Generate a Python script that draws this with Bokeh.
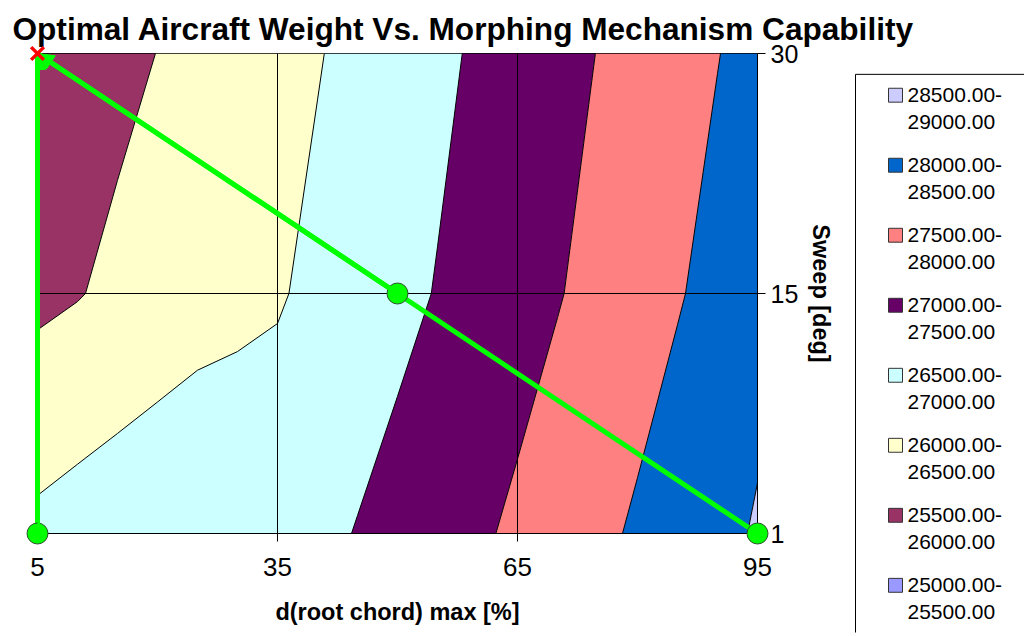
import numpy as np
from bokeh.plotting import figure
from bokeh.models import Range1d, FixedTicker, Arrow, NormalHead, ColumnDataSource
from bokeh.layouts import row
from bokeh.embed import file_html
from bokeh.resources import INLINE
from bokeh.core.properties import value

# ---------------- data ----------------
chord_max = [5, 10, 15, 20, 25, 30, 35, 40, 45, 50, 55, 60, 65, 70, 75, 80, 85, 90, 95]
sweep_rows = [1, 15, 30]
weight_sweep1 = [26615, 26713, 26786, 26797, 26798, 26782, 26780, 26881, 27021, 27160,
                 27295, 27432, 27580, 27740, 27900, 28060, 28220, 28380, 28540]
weight_sweep15 = [25890, 25975, 26100, 26255, 26360, 26410, 26460, 26600, 26740, 26880,
                  27022, 27172, 27322, 27473, 27636, 27802, 27967, 28132, 28350]
weight_sweep30 = [25653, 25770, 25888, 26006, 26123, 26241, 26359, 26476, 26617, 26763,
                  26909, 27056, 27207, 27357, 27508, 27668, 27828, 27988, 28148]
levels = [25000, 25500, 26000, 26500, 27000, 27500, 28000, 28500, 29000]
band_colors = ["#9999FF", "#993366", "#FFFFCC", "#CCFFFF", "#660066", "#FF8080", "#0066CC", "#CCCCFF"]
x_ticks = [5, 35, 65, 95]
sweep_ticks = [1, 15, 30]
path_vertical_x = [5, 5]
path_vertical_y = [1, 30]
path_diag_x = [95, 50, 5]
path_diag_y = [1, 15, 30]
point_x = [5, 50, 95]
point_y = [1, 15, 1]
optimum_x = [5]
optimum_y = [30]

FONT = "Liberation Sans"
row_pos = {s: i for i, s in enumerate(sweep_rows)}

def ypos(vals):
    return [row_pos[v] for v in vals]

# ---------------- main plot ----------------
p = figure(width=1024, height=632, output_backend="svg", toolbar_location=None,
           x_range=Range1d(5, 95), y_range=Range1d(0, 2), y_axis_location="right",
           min_border_left=37, min_border_right=267, min_border_top=53, min_border_bottom=99,
           title="Optimal Aircraft Weight Vs. Morphing Mechanism Capability")
p.background_fill_color = "white"
p.border_fill_color = "white"
p.outline_line_color = "black"
p.outline_line_width = 1

p.title.text_font = FONT
p.title.text_font_size = "31.6px"
p.title.text_font_style = "bold"
p.title.text_color = "black"
p.title.align = "left"
p.title.offset = -25
p.title.standoff = 14

z = np.array([weight_sweep1, weight_sweep15, weight_sweep30], dtype=float)
p.contour(x=np.array(chord_max, dtype=float), y=np.array(ypos(sweep_rows), dtype=float), z=z,
          levels=levels, fill_color=band_colors, line_color="black", line_width=1)

# axes
xa = p.xaxis[0]
xa.ticker = FixedTicker(ticks=x_ticks)
xa.axis_label = "d(root chord) max [%]"
ya = p.yaxis[0]
ya.ticker = FixedTicker(ticks=ypos(sweep_ticks))
ya.major_label_overrides = {row_pos[s]: str(s) for s in sweep_ticks}
ya.axis_label = "Sweep [deg]"
for ax in (xa, ya):
    ax.axis_line_color = "black"
    ax.major_tick_line_color = "black"
    ax.major_tick_out = 8
    ax.major_tick_in = 0
    ax.minor_tick_line_color = None
    ax.major_label_text_font = FONT
    ax.major_label_text_color = "black"
    ax.axis_label_text_font = FONT
    ax.axis_label_text_font_style = "bold"
    ax.axis_label_text_font_size = "23.5px"
    ax.axis_label_text_color = "black"
xa.major_label_text_font_size = "26px"
xa.major_label_standoff = 16
xa.axis_label_standoff = 20
ya.major_label_text_font_size = "25px"
ya.major_label_standoff = 5
ya.axis_label_standoff = 7

for g in (p.xgrid[0], p.ygrid[0]):
    g.grid_line_color = "black"
    g.grid_line_width = 1
    g.level = "guide"
p.ygrid[0].ticker = FixedTicker(ticks=ypos(sweep_ticks))
p.xgrid[0].ticker = FixedTicker(ticks=x_ticks)

# green path lines
GREEN = "#00FF00"
p.line(path_vertical_x, ypos(path_vertical_y), line_color=GREEN, line_width=5, level="annotation")
p.line(path_diag_x, ypos(path_diag_y), line_color=GREEN, line_width=5, level="annotation")
arrow_src = ColumnDataSource(dict(
    x0=[path_vertical_x[-2], path_diag_x[-2]], y0=[ypos(path_vertical_y)[-2], ypos(path_diag_y)[-2]],
    x1=[path_vertical_x[-1], path_diag_x[-1]], y1=[ypos(path_vertical_y)[-1], ypos(path_diag_y)[-1]]))
p.add_layout(Arrow(end=NormalHead(size=16, fill_color=GREEN, line_color=GREEN),
                   x_start="x0", y_start="y0", x_end="x1", y_end="y1",
                   source=arrow_src, line_color=GREEN, line_width=5))
p.scatter(point_x, ypos(point_y), size=21, marker="circle", fill_color=GREEN,
          line_color="#2f4f2f", line_width=1, level="annotation")
p.scatter(optimum_x, ypos(optimum_y), size=18, marker="x", line_color="#FF0000",
          line_width=3.5, level="overlay")

# ---------------- legend panel (own figure, laid over the right margin) ----------------
LG_LEFT, LG_W = 853, 171
LG_TOP, LG_BOTTOM = 53, 636
lg = figure(frame_width=LG_W, frame_height=LG_BOTTOM - LG_TOP, width=LG_W, height=LG_BOTTOM,
            output_backend="svg", toolbar_location=None,
            x_range=Range1d(LG_LEFT, LG_LEFT + LG_W), y_range=Range1d(LG_BOTTOM, LG_TOP),
            x_axis_location=None, y_axis_location=None,
            min_border_left=0, min_border_right=0, min_border_bottom=0, min_border_top=LG_TOP,
            styles={"position": "absolute", "left": f"{LG_LEFT}px", "top": "0px"})
lg.outline_line_color = None
lg.grid.visible = False
lg.background_fill_color = None
lg.border_fill_color = None
lg.quad(left=[855], right=[1200], top=[74], bottom=[1000], fill_color="white",
        line_color="black", line_width=1)

n = len(band_colors)
order = list(range(n))[::-1]
pitch = 70.5
y1 = [95 + i * pitch for i in range(n)]
y2 = [v + 26.5 for v in y1]
lab1 = [f"{levels[k]:.2f}-" for k in order]
lab2 = [f"{levels[k + 1]:.2f}" for k in order]
cols = [band_colors[k] for k in order]
lg.quad(left=[888] * n, right=[902] * n, top=[v - 7 for v in y1], bottom=[v + 7 for v in y1],
        fill_color=cols, line_color="#333333", line_width=1)
lg.text(x=[907] * n, y=y1, text=lab1, text_baseline="middle", text_font=value(FONT),
        text_font_size="21px", text_color="black")
lg.text(x=[907] * n, y=y2, text=lab2, text_baseline="middle", text_font=value(FONT),
        text_font_size="21px", text_color="black")

layout = row(p, lg)
open("out.html", "w").write(file_html(layout, INLINE))
